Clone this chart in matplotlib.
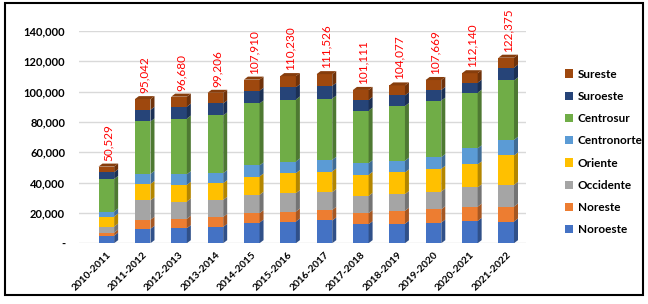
import numpy as np
import matplotlib.pyplot as plt
from matplotlib.patches import Polygon, Rectangle
from matplotlib.colors import to_rgb

# periods and regions
periods = ['2010-2011', '2011-2012', '2012-2013', '2013-2014', '2014-2015', '2015-2016',
           '2016-2017', '2017-2018', '2018-2019', '2019-2020', '2020-2021', '2021-2022']
regions = ['Noroeste', 'Noreste', 'Occidente', 'Oriente', 'Centronorte', 'Centrosur', 'Suroeste', 'Sureste']
colors = ['#4472C4', '#ED7D31', '#A5A5A5', '#FFC000', '#5B9BD5', '#70AD47', '#264478', '#9E480E']

noroeste = [5000, 9500, 9900, 10800, 13600, 14300, 15000, 12500, 12800, 13600, 14700, 14300]
noreste = [2000, 6000, 6200, 6600, 6200, 6600, 7000, 7300, 8600, 8800, 9400, 9900]
occidente = [4000, 12800, 11400, 11200, 12100, 12100, 11700, 11400, 11000, 11700, 12700, 14300]
oriente = [6600, 10800, 11000, 11000, 12100, 13200, 13600, 13900, 14300, 15000, 15200, 19400]
centronorte = [3300, 6600, 7000, 6600, 7300, 7700, 7700, 7700, 7700, 7700, 10600, 10300]
centrosur = [21500, 34600, 36700, 38100, 40900, 40900, 40400, 34700, 36100, 37300, 36700, 39200]
suroeste = [4400, 7700, 7900, 7900, 8400, 8100, 8400, 7000, 7000, 7000, 6600, 8400]
sureste = [3729, 7042, 6580, 7006, 7310, 7330, 7726, 6611, 6577, 6569, 6240, 6575]
totals = [50529, 95042, 96680, 99206, 107910, 110230, 111526, 101111, 104077, 107669, 112140, 122375]

series = [noroeste, noreste, occidente, oriente, centronorte, centrosur, suroeste, sureste]

plt.rcParams['font.family'] = ['Lato', 'DejaVu Sans']

fig = plt.figure(figsize=(6.48, 3.04), dpi=100)
ax = fig.add_axes([0.122, 0.2, 0.69, 0.698])

x = np.arange(len(periods))
w = 0.43
dx = 0.11      # fake depth, x units
dy = 2000      # fake depth, value units


def shade(c, f):
    r, g, b = to_rgb(c)
    return (r * f, g * f, b * f)


bottom = np.zeros(len(periods))
for name, vals, c in zip(regions, series, colors):
    vals = np.array(vals, dtype=float)
    ax.bar(x, vals, w, bottom=bottom, color=c, label=name, zorder=3)
    for i in range(len(x)):
        xr = x[i] + w / 2
        b0, b1 = bottom[i], bottom[i] + vals[i]
        ax.add_patch(Polygon([(xr, b0), (xr + dx, b0 + dy), (xr + dx, b1 + dy), (xr, b1)],
                             closed=True, color=shade(c, 0.7), zorder=3, lw=0))
    bottom += vals

# top faces and total labels
top_c = colors[-1]
for i in range(len(x)):
    xl, xr = x[i] - w / 2, x[i] + w / 2
    t = bottom[i]
    ax.add_patch(Polygon([(xl, t), (xl + dx, t + dy), (xr + dx, t + dy), (xr, t)],
                         closed=True, color=shade(top_c, 0.85), zorder=3, lw=0))
    ax.text(x[i] + 0.05, t + dy + 2000, f'{totals[i]:,}', rotation=90, ha='center', va='bottom',
            color='#FF0000', fontsize=8.5)

ax.set_ylim(0, 140000)
ax.set_xlim(-0.75, len(x) - 0.45)
ax.set_yticks(np.arange(0, 140001, 20000))
ax.set_yticklabels(['-'] + [f'{v:,}' for v in range(20000, 140001, 20000)], fontsize=8, fontweight='bold')
ax.set_xticks(x)
ax.set_xticklabels(periods, rotation=45, ha='right', rotation_mode='anchor', fontsize=7.3, fontweight='bold')
ax.tick_params(axis='y', length=0, pad=10)
ax.tick_params(axis='x', length=0, pad=5)
ax.yaxis.grid(True, color='#D9D9D9', lw=1, zorder=0)
for s in ax.spines.values():
    s.set_visible(False)

h, l = ax.get_legend_handles_labels()
fig.legend(h[::-1], l[::-1], loc='center left', bbox_to_anchor=(0.855, 0.5), frameon=False,
           prop={'size': 8.5, 'weight': 'bold'}, handlelength=0.7, handleheight=0.7,
           handletextpad=0.4, labelspacing=0.95)

fig.add_artist(Rectangle((0.008, 0.028), 0.985, 0.962, transform=fig.transFigure,
                         fill=False, lw=1.5, edgecolor='black'))

fig.savefig('out.png', dpi=100)
